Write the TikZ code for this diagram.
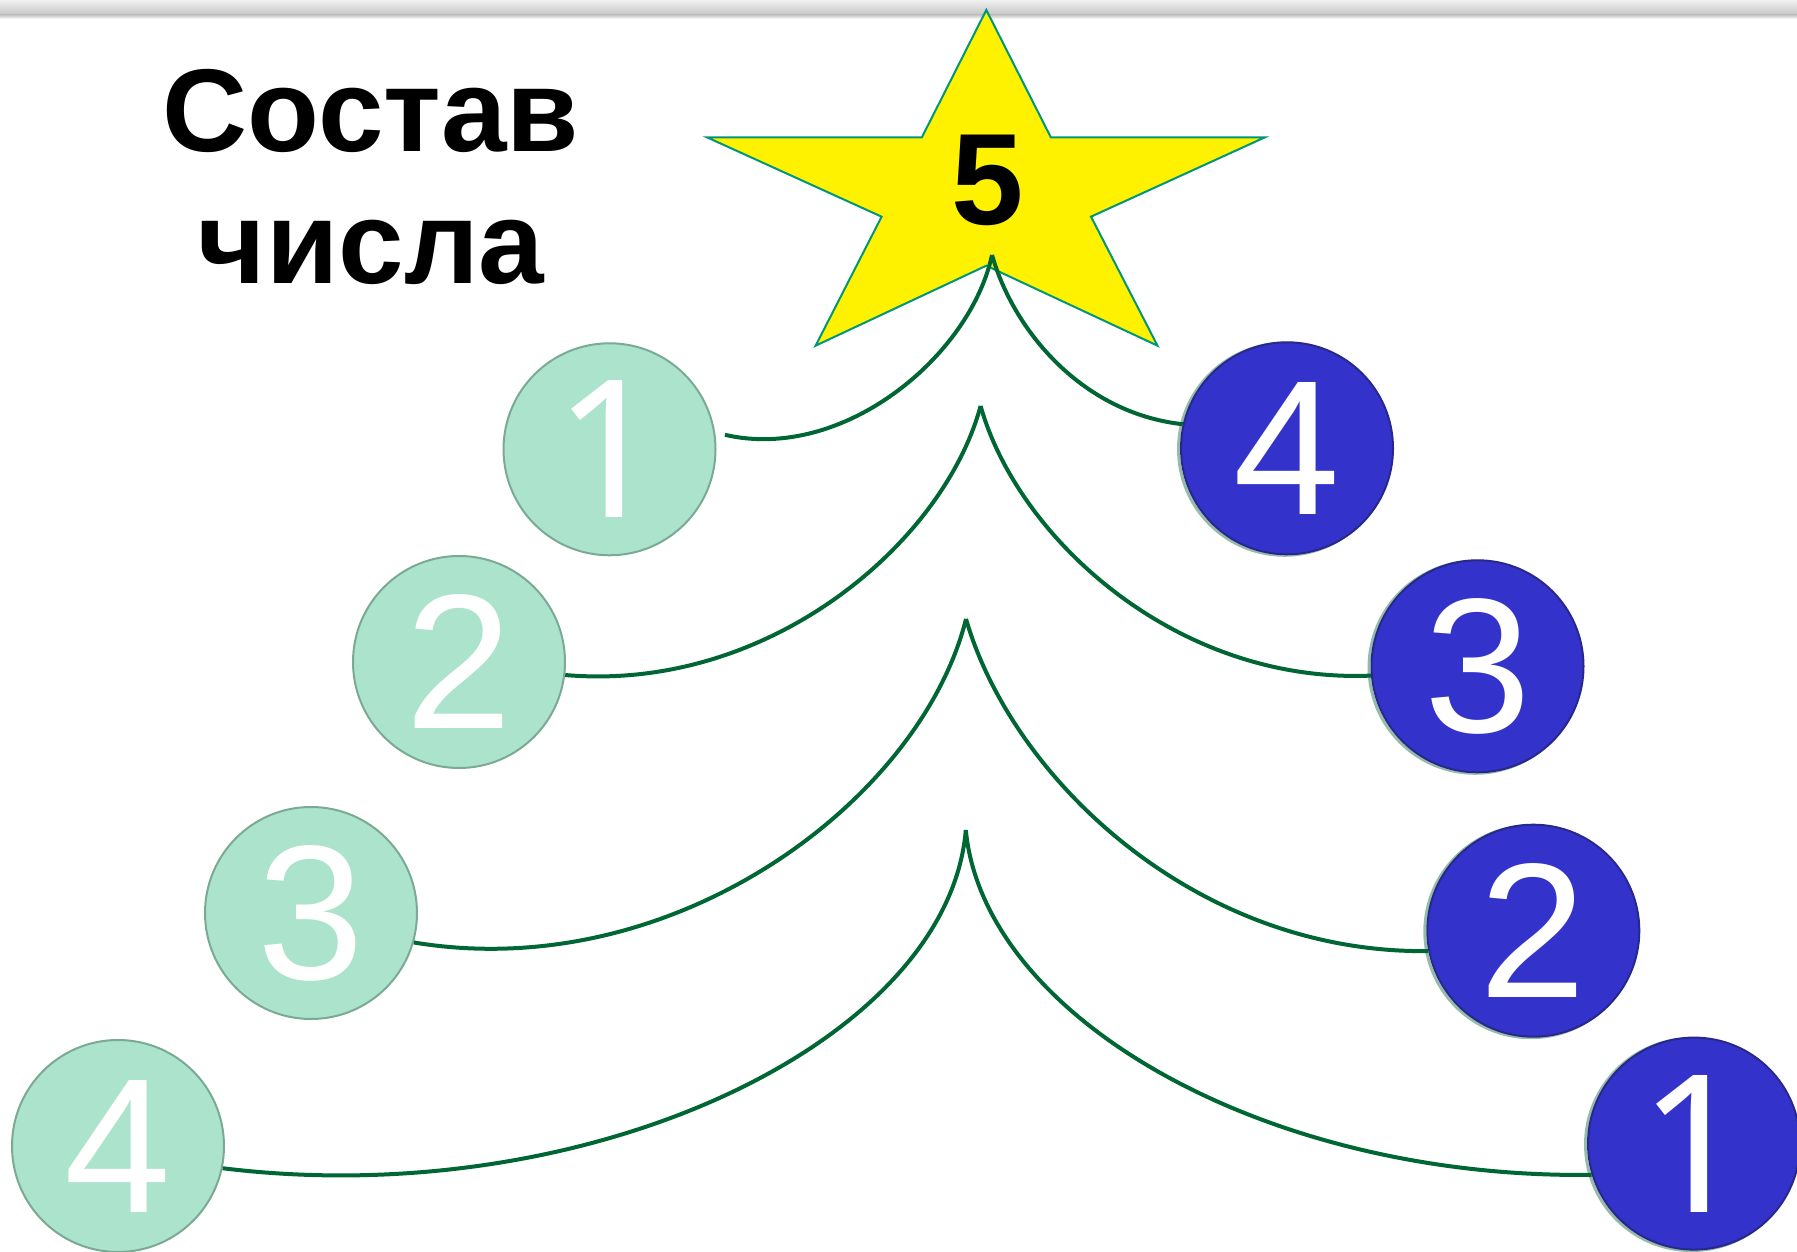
\documentclass[tikz,border=0pt]{standalone}
\usepackage{fontspec}
\setmainfont{Liberation Sans}
\newfontfamily\onefont{Noto Sans}
\definecolor{leaffill}{HTML}{ABE3CC}
\definecolor{leafline}{HTML}{7AAA96}
\definecolor{ballfill}{HTML}{3333CC}
\definecolor{ballline}{HTML}{28288C}
\definecolor{branchgreen}{HTML}{006633}
\definecolor{stargreen}{HTML}{009678}

\begin{document}
\begin{tikzpicture}[x=0.1mm,y=0.1mm,
  leaf/.style={circle,minimum size=21.2mm,inner sep=0pt,fill=leaffill,draw=leafline,line width=0.2mm,text=white,font=\fontsize{54.6}{60}\selectfont},
  ball/.style={leaf,fill=ballfill,draw=ballline,preaction={draw=leafline!80,line width=0.3mm,transform canvas={xshift=-0.25mm,yshift=-0.1mm}}},
  onedigit/.style={font=\onefont\fontsize{54.6}{60}\selectfont},
  branch/.style={draw=branchgreen,line width=0.4mm},
  starbody/.style={fill=yellow,draw=stargreen,line width=0.2mm},
  headline/.style={anchor=base,font=\fontsize{33.5}{40}\selectfont\bfseries}]
\useasboundingbox (0,0) rectangle (1797,1252);
\shade[top color=gray!12,bottom color=gray!45] (0,1237) rectangle (1797,1252);
\shade[top color=gray!45,bottom color=white] (0,1233) rectangle (1797,1237);
\node[headline] (title1) at (371,1100) {Состав};
\node[headline] (title2) at (371,968.7) {числа};
\draw[starbody] (986.3,1242) -- (1050.8,1114.7) -- (1265,1114.7) -- (1091,1035.3) -- (1157.5,906.3) -- (986.3,986.3) -- (815.6,906.3) -- (881.6,1035.3) -- (706.9,1114.7) -- (921.9,1114.7) -- cycle;
\node[font=\fontsize{37}{40}\selectfont\bfseries] (five) at (987.7,1072) {5};
\coordinate (t1) at (992,997);
\coordinate (t2) at (980.6,846);
\coordinate (t3) at (966,633);
\coordinate (t4) at (965.8,422);
\node[leaf,onedigit] (l1) at (609.5,802.7) {1};
\node[leaf] (l2) at (459,590) {2};
\node[leaf] (l3) at (311,339) {3};
\node[leaf] (l4) at (118,106) {4};
\node[ball] (r4) at (1287,803.7) {4};
\node[ball] (r3) at (1477.5,585.7) {3};
\node[ball] (r2) at (1533.3,321.3) {2};
\node[ball,onedigit] (r1) at (1694,108.4) {1};
\draw[branch,shorten >=1mm] (t1) .. controls +(-21.8,-101.2) and +(127.8,-29.6) .. (l1.9);
\draw[branch] (t1) .. controls +(21.8,-76.7) and +(-99.6,10.8) .. (r4.167);
\draw[branch] (t2) .. controls +(-37.2,-137.5) and +(203.4,-17.5) .. (l2.353);
\draw[branch] (t2) .. controls +(36.9,-131.8) and +(-194.8,-8.1) .. (r3.185);
\draw[branch] (t3) .. controls +(-45.3,-181.3) and +(260.5,-43.1) .. (l3.344);
\draw[branch] (t3) .. controls +(45.5,-158.1) and +(-233.9,-2.7) .. (r2.191);
\draw[branch] (t4) .. controls +(-18,-214) and +(362.9,-44.6) .. (l4.348);
\draw[branch] (t4) .. controls +(18,-188.1) and +(-326,-4.1) .. (r1.197);
\end{tikzpicture}
\end{document}
